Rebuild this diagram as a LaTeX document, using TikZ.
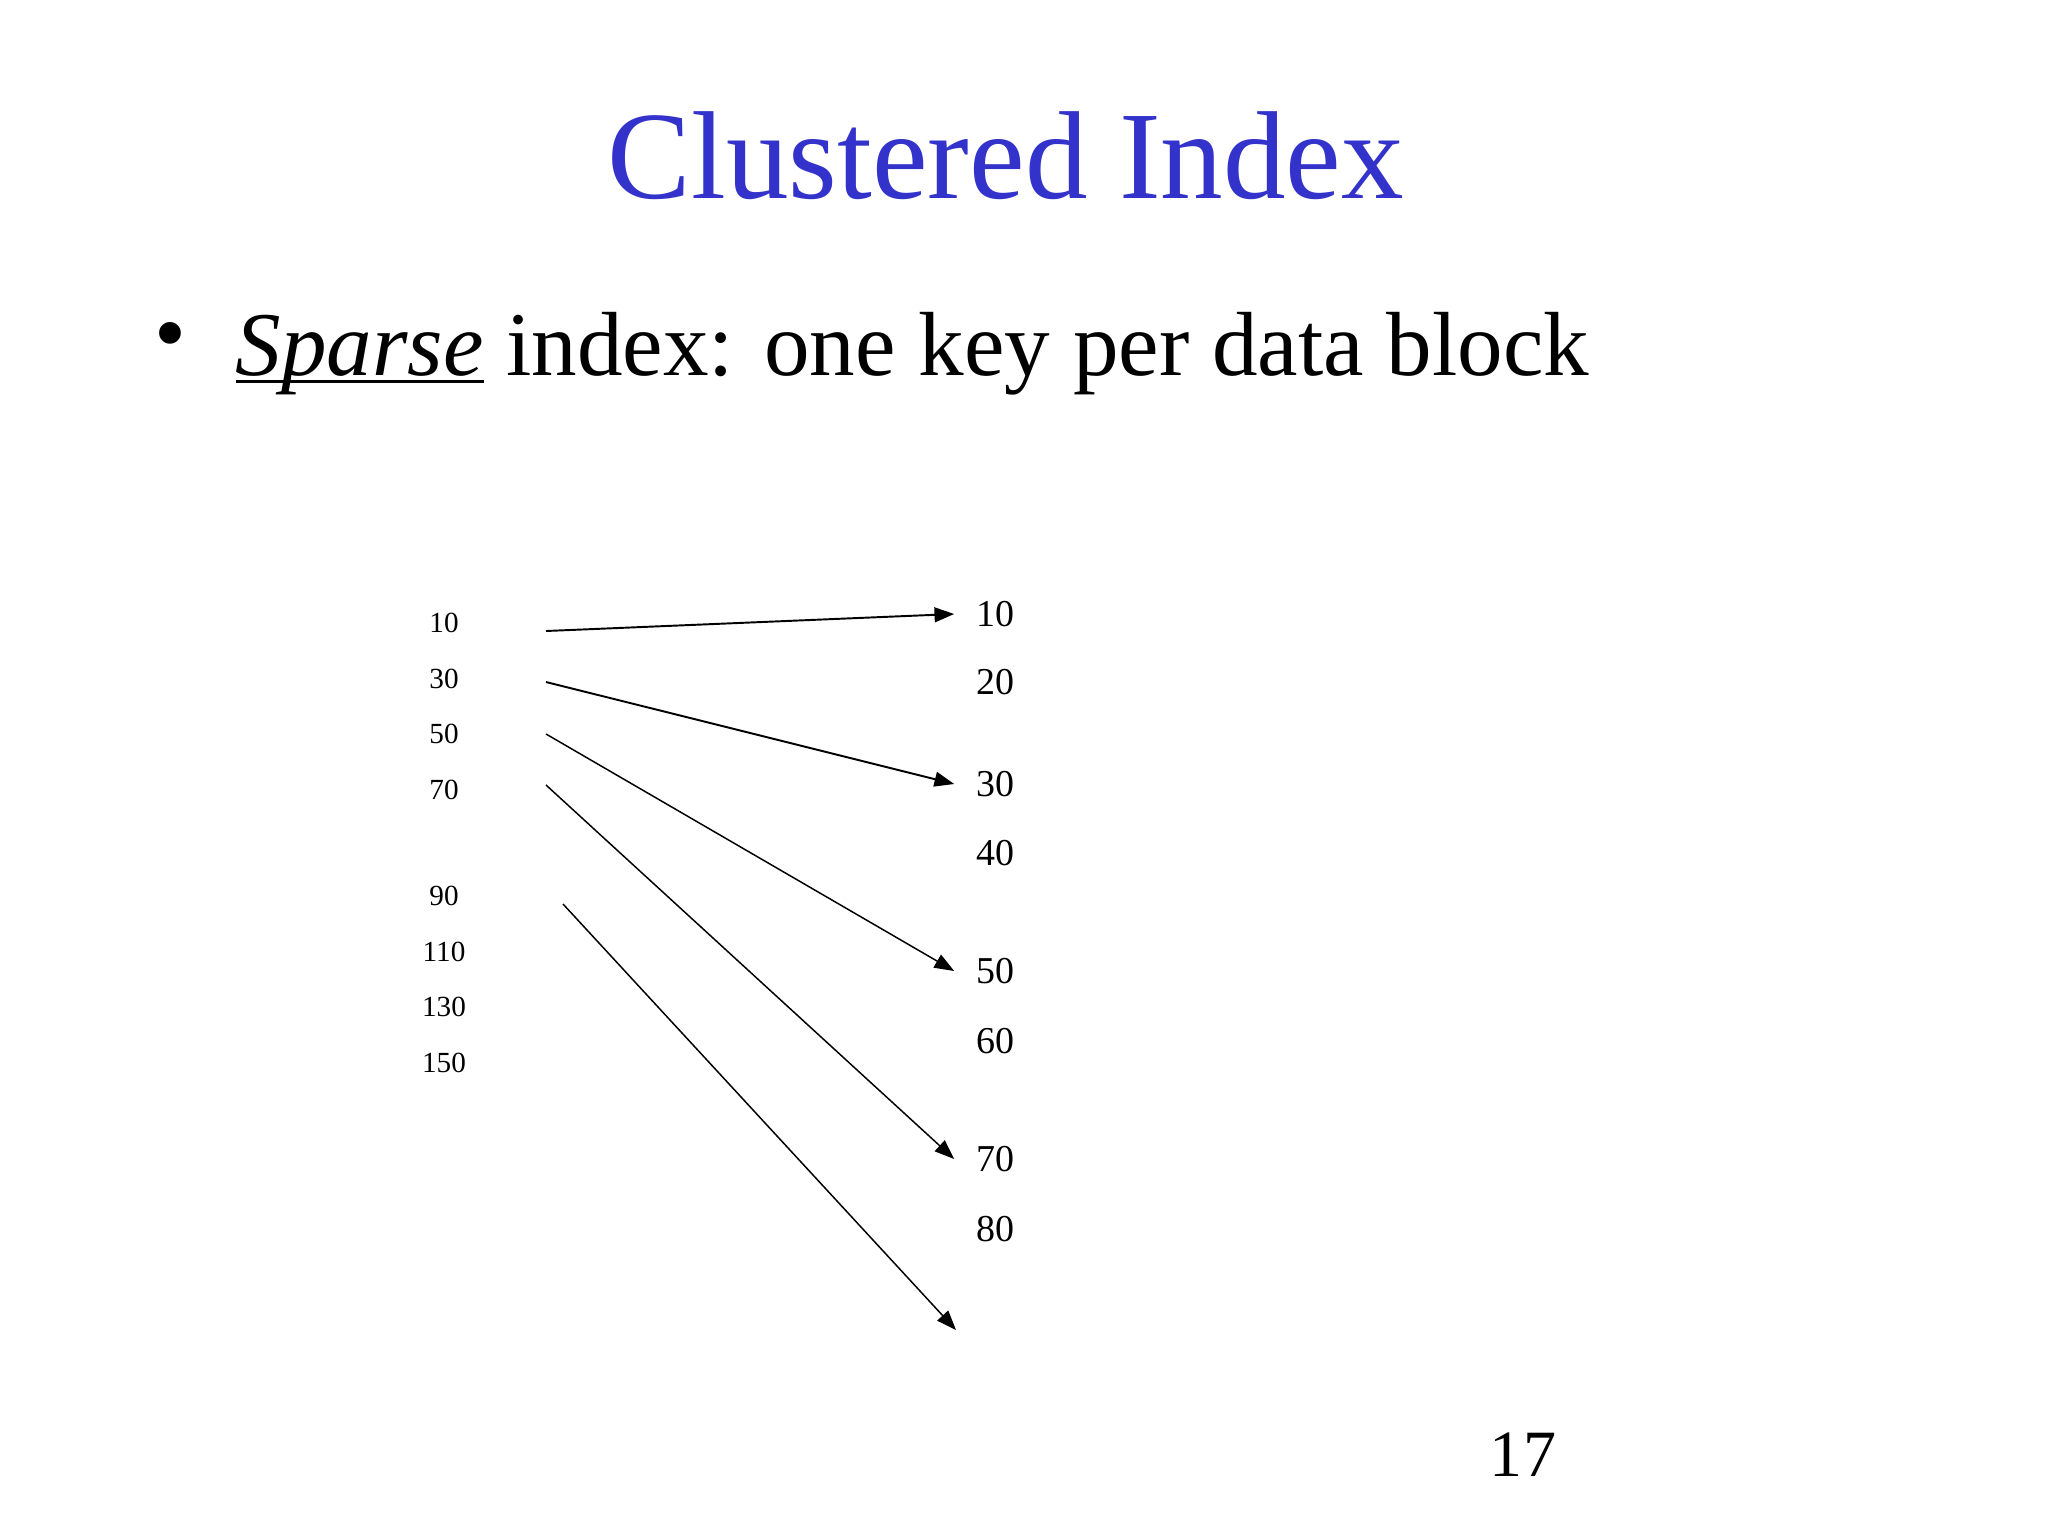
\documentclass[tikz,border=0pt]{standalone}
\usepackage{fontspec}
\setmainfont{Liberation Serif}
\usetikzlibrary{arrows.meta}
\definecolor{titleblue}{RGB}{51,51,204}
\newcommand\myuline[1]{\setbox0\hbox{#1}\rlap{\rule[-2.4pt]{\wd0}{0.9pt}}\box0\relax}
\begin{document}
\begin{tikzpicture}[x=0.01cm,y=-0.01cm,
  titletext/.style={font=\fontsize{35.6}{40}\selectfont, text=titleblue, inner sep=0, anchor=base},
  bullettext/.style={font=\fontsize{25.9}{30}\selectfont, inner sep=0, anchor=base west},
  leftnum/.style={font=\fontsize{8.3}{10}\selectfont, inner sep=0},
  rightnum/.style={font=\fontsize{10.8}{13}\selectfont, inner ysep=0, inner xsep=6pt},
  pagenum/.style={font=\fontsize{18.8}{22}\selectfont, inner sep=0},
  ptr/.style={-{Triangle[length=5.6pt,width=4.2pt]}, line width=0.42pt, black},
  ptrthick/.style={ptr, line width=0.55pt}
]
\useasboundingbox[fill=white] (0,0) rectangle (2048,1536);

% title and bullet
\node[titletext] (title) at (1006,198) {Clustered Index};
\node[font=\fontsize{25.9}{30}\selectfont, inner sep=0] (bullet) at (170,343) {•};
\node[bullettext] (line1) at (235,375) {\myuline{\textit{Sparse}} index: one key per data block};

% left (index) keys
\node[leftnum] (l10) at (444,623) {10};
\node[leftnum] (l30) at (444,679) {30};
\node[leftnum] (l50) at (444,734) {50};
\node[leftnum] (l70) at (444,790) {70};
\node[leftnum] (l90) at (444,896) {90};
\node[leftnum] (l110) at (444,952) {110};
\node[leftnum] (l130) at (444,1007) {130};
\node[leftnum] (l150) at (444,1063) {150};

% right (data) keys
\node[rightnum] (r10) at (995,614) {10};
\node[rightnum] (r20) at (995,682) {20};
\node[rightnum] (r30) at (995,784) {30};
\node[rightnum] (r40) at (995,853) {40};
\node[rightnum] (r50) at (995,971) {50};
\node[rightnum] (r60) at (995,1041) {60};
\node[rightnum] (r70) at (995,1159) {70};
\node[rightnum] (r80) at (995,1229) {80};

% pointer start points
\coordinate (s10) at (546,631);
\coordinate (s30) at (546,682);
\coordinate (s50) at (546,734);
\coordinate (s70) at (546,785);
\coordinate (s90) at (563,904);
\coordinate (e90) at (956,1330);

\draw[ptrthick] (s10) -- (r10.west);
\draw[ptrthick] (s30) -- (r30.west);
\draw[ptr] (s50) -- (r50.west);
\draw[ptr] (s70) -- (r70.west);
\draw[ptr] (s90) -- (e90);

% page number
\node[pagenum] (page) at (1523,1455) {17};
\end{tikzpicture}
\end{document}
